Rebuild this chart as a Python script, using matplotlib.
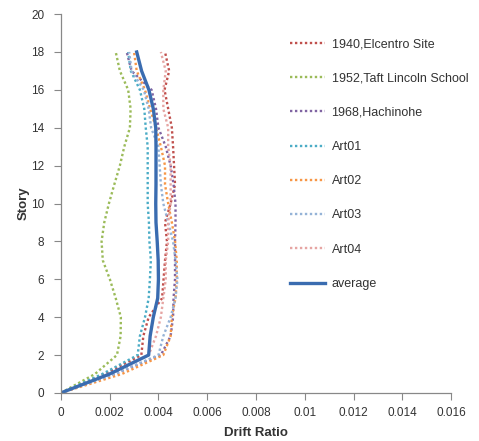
import matplotlib.pyplot as plt
import numpy as np

# Piani (0..18) e drift ratio
stories = list(range(19))

elcentro_1940 = [0, 0.0018, 0.0033, 0.00338, 0.0036, 0.00415, 0.00421, 0.00427, 0.00435, 0.00427,
                 0.0045, 0.00468, 0.00464, 0.0046, 0.00455, 0.0044, 0.00425, 0.00444, 0.00427]
taft_1952 = [0, 0.0014, 0.0023, 0.00245, 0.00246, 0.00225, 0.00201, 0.00172, 0.00167, 0.00178,
             0.00197, 0.00219, 0.00242, 0.0026, 0.00283, 0.00286, 0.00276, 0.00242, 0.00225]
hachinohe_1968 = [0, 0.0022, 0.0041, 0.0045, 0.0046, 0.00462, 0.00468, 0.00468, 0.00468, 0.0047,
                  0.0047, 0.00462, 0.0045, 0.0043, 0.004, 0.0039, 0.00372, 0.0029, 0.0027]
art01 = [0, 0.0017, 0.00315, 0.00324, 0.00345, 0.0036, 0.00365, 0.00369, 0.00363, 0.00361,
         0.00356, 0.00356, 0.00356, 0.00356, 0.00348, 0.00342, 0.00324, 0.00287, 0.00276]
art02 = [0, 0.0025, 0.0042, 0.0045, 0.00455, 0.0047, 0.00475, 0.00475, 0.00468, 0.00455,
         0.0044, 0.00427, 0.00427, 0.0041, 0.0039, 0.00366, 0.00345, 0.00311, 0.003]
art03 = [0, 0.0022, 0.004, 0.0042, 0.0045, 0.0047, 0.00478, 0.0047, 0.0046, 0.0044,
         0.0042, 0.0041, 0.00405, 0.004, 0.0037, 0.0036, 0.0034, 0.0029, 0.0028]
art04 = [0, 0.002, 0.0036, 0.0039, 0.0041, 0.0042, 0.0043, 0.0043, 0.0044, 0.0044,
         0.0045, 0.0045, 0.0045, 0.0044, 0.0044, 0.0042, 0.0042, 0.0043, 0.0041]
average = [0, 0.002, 0.0036, 0.00366, 0.00379, 0.00397, 0.004, 0.00399, 0.00395, 0.0039,
           0.00389, 0.0039, 0.0039, 0.0039, 0.00389, 0.00379, 0.00361, 0.00331, 0.00311]

labels = ['1940,Elcentro Site', '1952,Taft Lincoln School', '1968,Hachinohe',
          'Art01', 'Art02', 'Art03', 'Art04']
colors = ['#C0504D', '#9BBB59', '#8064A2', '#4BACC6', '#F79646', '#95B3D7', '#E6A5A3']
series = [elcentro_1940, taft_1952, hachinohe_1968, art01, art02, art03, art04]

x_ticks = [0, 0.002, 0.004, 0.006, 0.008, 0.01, 0.012, 0.014, 0.016]
x_tick_labels = ['0', '0.002', '0.004', '0.006', '0.008', '0.01', '0.012', '0.014', '0.016']
y_ticks = list(range(0, 21, 2))

plt.rcParams['font.family'] = ['Liberation Sans', 'DejaVu Sans']
text_col = '#333333'

fig = plt.figure(figsize=(4.79, 4.41), dpi=100)
fig.patch.set_facecolor('white')
ax = fig.add_axes([0.127, 0.109, 0.815, 0.859])

for vals, lab, col in zip(series, labels, colors):
    ax.plot(vals, stories, color=col, linestyle=(0, (1, 1.1)), linewidth=1.7, label=lab)
ax.plot(average, stories, color='#3A6CB0', linewidth=2.4, label='average')

ax.set_xlim(0, 0.016)
ax.set_ylim(0, 20)
ax.set_xticks(x_ticks)
ax.set_xticklabels(x_tick_labels, fontsize=8.5, color=text_col)
ax.set_yticks(y_ticks)
ax.set_yticklabels([str(v) for v in y_ticks], fontsize=8.5, color=text_col)
ax.tick_params(axis='x', direction='out', length=5, color='#888888', width=0.8, pad=5)
ax.tick_params(axis='y', direction='out', length=5, color='#888888', width=0.8, pad=7)

for side in ['top', 'right']:
    ax.spines[side].set_visible(False)
for side in ['left', 'bottom']:
    ax.spines[side].set_color('#888888')
    ax.spines[side].set_linewidth(0.9)

ax.set_xlabel('Drift Ratio', fontsize=9.5, fontweight='bold', color=text_col, labelpad=6)
ax.set_ylabel('Story', fontsize=9.5, fontweight='bold', color=text_col, labelpad=1)

leg = ax.legend(loc='upper left', bbox_to_anchor=(0.559, 0.966), frameon=False, fontsize=9,
                handlelength=2.8, handletextpad=0.5, labelspacing=1.78)
for t in leg.get_texts():
    t.set_color(text_col)

plt.savefig('out.png', dpi=100, facecolor='white')
